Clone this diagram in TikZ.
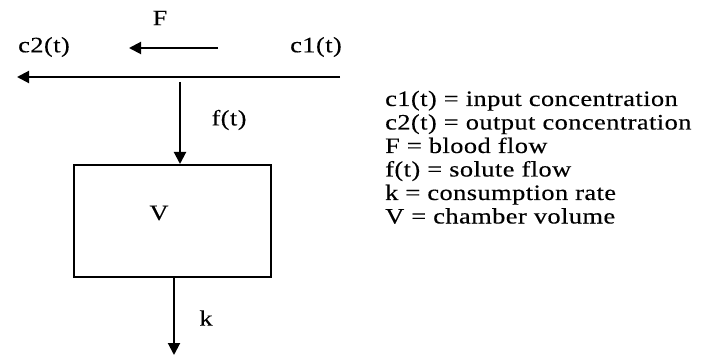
\documentclass[tikz,border=0pt]{standalone}
\usepackage{fontspec}
\setmainfont[LetterSpace=2,FakeStretch=1.2,FakeBold=0.3]{Liberation Serif}
\usetikzlibrary{arrows.meta}
\begin{document}
\begin{tikzpicture}[x=1pt,y=-1pt,
  lbl/.style={inner sep=0pt,font=\fontsize{22}{22}\selectfont},
  leg/.style={lbl,anchor=base west},
  flow/.style={line width=2pt,-{Triangle[length=12pt,width=12pt]}},
  chamber/.style={draw,line width=2pt,minimum width=197pt,minimum height=112pt,inner sep=0pt}]
\useasboundingbox (0,0) rectangle (703,355);
% main line
\coordinate (in) at (340,77);
\coordinate (out) at (17,77);
\draw[flow] (in) -- (out);
% F arrow
\coordinate (fa) at (218,48);
\coordinate (fb) at (129,48);
\draw[flow] (fa) -- (fb);
\node[lbl] (F) at (160,18) {F};
\node[lbl] (c2) at (44,47) {c2(t)};
\node[lbl] (c1) at (316,47) {c1(t)};
% chamber
\node[chamber] (box) at (172.5,221) {};
\node[lbl] (V) at (159,213) {V};
\coordinate (ftop) at (180,82);
\draw[flow] (ftop) -- (ftop |- box.north);
\node[lbl] (ft) at (229,120) {f(t)};
\coordinate (kend) at (174,355);
\draw[flow] (kend |- box.south) -- (kend);
\node[lbl] (k) at (206,318) {k};
% legend
\node[leg] (l1) at (385,106) {c1(t) = input concentration};
\node[leg] (l2) at (385,129.5) {c2(t) = output concentration};
\node[leg] (l3) at (385,153) {F = blood flow};
\node[leg] (l4) at (385,176.5) {f(t) = solute flow};
\node[leg] (l5) at (385,200) {k = consumption rate};
\node[leg] (l6) at (385,223.5) {V = chamber volume};
\end{tikzpicture}
\end{document}
